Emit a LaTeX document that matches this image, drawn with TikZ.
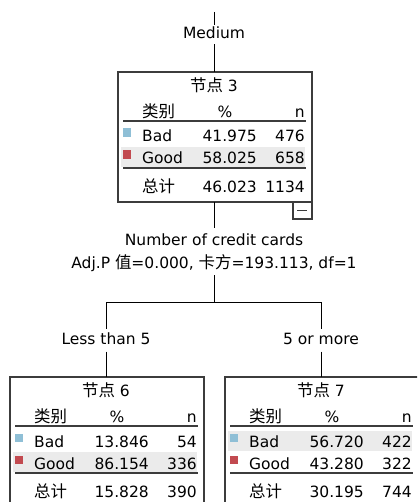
\documentclass[tikz,border=0pt]{standalone}
\usepackage{fontspec}
\setmainfont{DejaVu Sans}
\newfontfamily\cjkfont[Scale=1.06]{Noto Sans CJK SC}
\definecolor{badblue}{HTML}{8FBFD6}
\definecolor{goodred}{HTML}{C24A50}
\definecolor{rowgray}{HTML}{EBEBEB}
\definecolor{framegray}{HTML}{3C3C3C}
\tikzset{
  txt/.style={font=\fontsize{15.5}{18}\selectfont, inner sep=0pt, text=black},
  lbl/.style={font=\fontsize{15.5}{18}\selectfont, inner xsep=1pt, text height=11pt, text depth=3pt, anchor=base, text=black},
  box/.style={draw=framegray, line width=1.4pt, minimum width=194pt, minimum height=130pt, anchor=north west, inner sep=0pt, outer sep=0pt},
  rule/.style={draw=framegray, line width=1.3pt},
  conn/.style={draw=black, line width=1pt},
  toggle/.style={draw=framegray, line width=1.2pt, minimum width=19pt, minimum height=17pt, inner sep=0pt, outer sep=0pt,
    path picture={\draw[line width=1.2pt] ([xshift=-5.5pt]path picture bounding box.center) -- ([xshift=4.5pt]path picture bounding box.center);}}
}
\newcommand\spssframe[3]{%
  \fill[rowgray] (3,#3) rectangle (187,#3+20);
  \node[box] (#1) at (0,0) {};
  \node[txt,anchor=base] (#1-title) at (96,19.5) {{\cjkfont 节点} #2};
  \node[txt,anchor=base west] (#1-h1) at (24,45.5) {\cjkfont 类别};
  \node[txt,anchor=base] (#1-h2) at (107,45.5) {\%};
  \node[txt,anchor=base east] (#1-h3) at (187,45.5) {n};
  \draw[rule] (5,49) -- (188,49);
  \draw[rule] (5,96) -- (188,96);}
\newcommand\spssrow[6]{%
  \fill[#3] (5,#2-13.5) rectangle (13,#2-5);
  \node[txt,anchor=base west] (#1-l) at (24,#2) {#4};
  \node[txt,anchor=base east] (#1-p) at (139,#2) {#5};
  \node[txt,anchor=base east] (#1-n) at (187,#2) {#6};}
\newcommand\spsstotal[3]{%
  \node[txt,anchor=base west] (#1-tl) at (24,120.5) {\cjkfont 总计};
  \node[txt,anchor=base east] (#1-tp) at (139,120.5) {#2};
  \node[txt,anchor=base east] (#1-tn) at (187,120.5) {#3};}
\begin{document}
\begin{tikzpicture}[x=1pt,y=-1pt]
\clip (0,0) rectangle (417,502);
\fill[white] (0,0) rectangle (417,502);
% root node 3
\begin{scope}[shift={(118,72)}]
  \spssframe{n3}{3}{75}
  \spssrow{n3-bad}{70}{badblue}{Bad}{41.975}{476}
  \spssrow{n3-good}{92}{goodred}{Good}{58.025}{658}
  \spsstotal{n3}{46.023}{1134}
\end{scope}
\node[toggle,anchor=north east] (n3-toggle) at (n3.south east) {};
% node 6
\begin{scope}[shift={(10,377)}]
  \spssframe{n6}{6}{75}
  \spssrow{n6-bad}{70}{badblue}{Bad}{13.846}{54}
  \spssrow{n6-good}{92}{goodred}{Good}{86.154}{336}
  \spsstotal{n6}{15.828}{390}
\end{scope}
% node 7
\begin{scope}[shift={(225,377)}]
  \spssframe{n7}{7}{54}
  \spssrow{n7-bad}{70}{badblue}{Bad}{56.720}{422}
  \spssrow{n7-good}{92}{goodred}{Good}{43.280}{322}
  \spsstotal{n7}{30.195}{744}
\end{scope}
% labels and connectors
\coordinate (top) at (214,12);
\node[lbl,inner ysep=2.5pt] (medium) at (214,38.5) {Medium};
\draw[conn] (top) -- (medium.north);
\draw[conn] (medium.south) -- (medium.south |- n3.north);
\node[lbl,inner ysep=6.5pt] (splitA) at (214,245.5) {Number of credit cards};
\node[lbl,inner ysep=3.5pt] (splitB) at (214,268.5) {Adj.P {\cjkfont 值}=0.000, {\cjkfont 卡方}=193.113, df=1};
\draw[conn] (splitA.north |- n3.south) -- (splitA.north);
\coordinate (j6) at (106,302);
\coordinate (j7) at (321,302);
\draw[conn] (splitB.south) -- (splitB.south |- j6);
\draw[conn] (j6) -- (j7);
\node[lbl,inner ysep=4pt] (lbl6) at (106,344.5) {Less than 5};
\node[lbl,inner ysep=4pt] (lbl7) at (321,344.5) {5 or more};
\draw[conn] (j6) -- (lbl6.north);
\draw[conn] (j7) -- (lbl7.north);
\draw[conn] (lbl6.south) -- (lbl6.south |- n6.north);
\draw[conn] (lbl7.south) -- (lbl7.south |- n7.north);
\end{tikzpicture}
\end{document}
